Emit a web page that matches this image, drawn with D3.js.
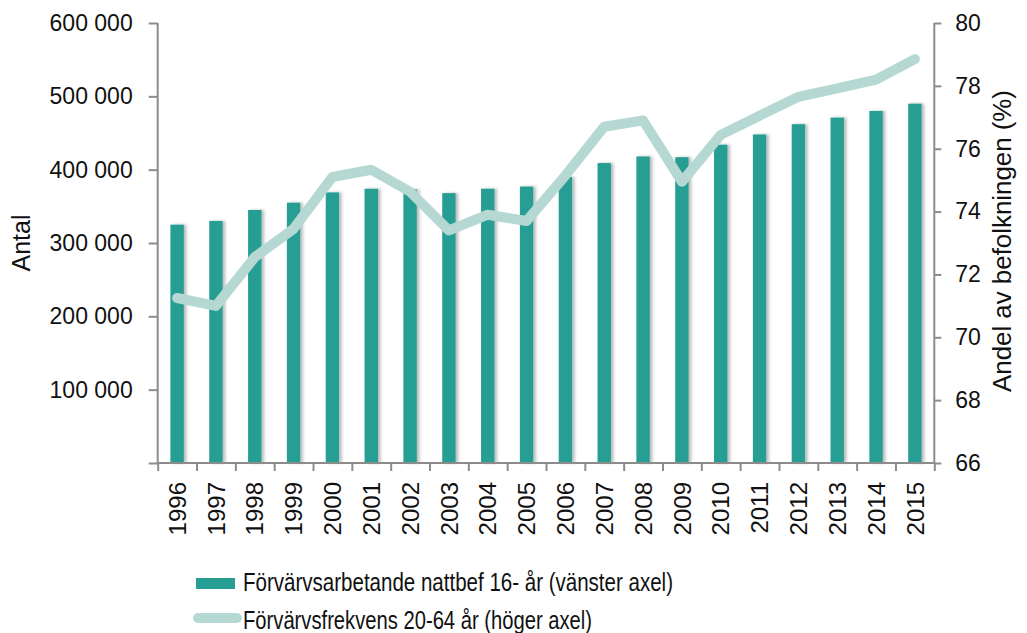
<!DOCTYPE html>
<html><head><meta charset="utf-8">
<script src="https://cdn.jsdelivr.net/npm/d3@7"></script>
<style>
html,body{margin:0;padding:0;background:#fff;}
svg{display:block;}
text{font-family:"Liberation Sans",Arial,sans-serif;fill:#111;}
</style></head>
<body>
<svg id="chart" width="1027" height="633"></svg>
<script>
const years = ["1996","1997","1998","1999","2000","2001","2002","2003","2004","2005","2006","2007","2008","2009","2010","2011","2012","2013","2014","2015"];
const employed = [325000,330000,345000,355000,369000,374000,373000,368000,374000,377000,390000,409000,418000,417000,434000,448000,462000,471000,480000,490000];
const rate = [71.25,71.0,72.55,73.45,75.1,75.33,74.63,73.4,73.9,73.7,75.15,76.7,76.9,74.95,76.44,77.05,77.65,77.92,78.2,78.85];
const leftTicks = [0,100000,200000,300000,400000,500000,600000];
const rightTicks = [66,68,70,72,74,76,78,80];
const legendLabels = ["Förvärvsarbetande nattbef 16- år (vänster axel)","Förvärvsfrekvens 20-64 år (höger axel)"];

const barColor = "#279e93", lineColor = "#b6d8d3", axisColor = "#8c8c8c";
const svg = d3.select("#chart");
const L = 157.7, R = 934.3, T = 23, B = 463;

const x = d3.scaleBand().domain(years).range([L, R]).paddingInner(0.655).paddingOuter(0.3275);
const yL = d3.scaleLinear().domain([0,600000]).range([B, T]);
const yR = d3.scaleLinear().domain([66,80]).range([B, T]);

const defs = svg.append("defs");
const f = defs.append("filter").attr("id","sh").attr("x","-50%").attr("y","-10%").attr("width","200%").attr("height","120%");
f.append("feDropShadow").attr("dx",2.5).attr("dy",0).attr("stdDeviation",1.5).attr("flood-color","#000").attr("flood-opacity",0.28);

const loc = d3.formatLocale({decimal:",", thousands:"\u00a0", grouping:[3], currency:["",""]});
const fmt = loc.format(",d");

// bars
svg.append("g").selectAll("rect").data(years).join("rect")
  .attr("x", d => x(d)).attr("width", x.bandwidth())
  .attr("y", (d,i) => yL(employed[i])).attr("height", (d,i) => B - yL(employed[i]))
  .attr("fill", barColor).attr("filter","url(#sh)");

// line
const line = d3.line().x((d,i) => x(years[i]) + x.bandwidth()/2).y(d => yR(d));
svg.append("path").datum(rate).attr("d", line).attr("fill","none")
  .attr("stroke", lineColor).attr("stroke-width", 10).attr("stroke-linecap","round").attr("stroke-linejoin","round");

// axes
const gL = svg.append("g").attr("transform",`translate(${L},0)`)
  .call(d3.axisLeft(yL).tickValues(leftTicks).tickFormat(d => d === 0 ? "" : fmt(d)).tickSize(9).tickPadding(16));
const gR = svg.append("g").attr("transform",`translate(${R},0)`)
  .call(d3.axisRight(yR).tickValues(rightTicks).tickSize(7).tickPadding(14));
const xb = d3.scaleLinear().domain([0,20]).range([L,R]);
const gX = svg.append("g").attr("transform",`translate(0,${B})`)
  .call(d3.axisBottom(xb).tickValues(d3.range(21)).tickFormat("").tickSize(8));
[gL,gR,gX].forEach(g => {
  g.select(".domain").attr("stroke", axisColor).attr("stroke-width",2);
  g.selectAll(".tick line").attr("stroke", axisColor).attr("stroke-width",2);
  g.selectAll("text").attr("font-size",23).attr("fill","#111").attr("font-family",'"Liberation Sans",Arial,sans-serif');
});
gL.select(".domain").attr("d", `M0,${B}V${T}`);
gR.select(".domain").attr("d", `M0,${B}V${T}`);
gX.select(".domain").attr("d", `M${L},0H${R}`);

// year labels
svg.append("g").selectAll("text").data(years).join("text")
  .attr("transform", d => `translate(${x(d)+x.bandwidth()/2},${B+19}) rotate(-90)`)
  .attr("text-anchor","end").attr("dy","0.36em").attr("font-size",24).text(d => d);

// axis titles
svg.append("text").attr("transform",`translate(${30},${243}) rotate(-90)`).attr("text-anchor","middle")
  .attr("font-size",25).text("Antal");
svg.append("text").attr("transform",`translate(${1011},${241}) rotate(-90)`).attr("text-anchor","middle")
  .attr("font-size",25).attr("textLength",302).attr("lengthAdjust","spacingAndGlyphs").text("Andel av befolkningen (%)");

// legend
const lg = svg.append("g");
lg.append("rect").attr("x",196).attr("y",578).attr("width",39).attr("height",11).attr("fill",barColor);
lg.append("text").attr("x",243).attr("y",591).attr("font-size",25)
  .attr("textLength",430).attr("lengthAdjust","spacingAndGlyphs").text(legendLabels[0]);
lg.append("line").attr("x1",198).attr("x2",237).attr("y1",618).attr("y2",618)
  .attr("stroke",lineColor).attr("stroke-width",10).attr("stroke-linecap","round");
lg.append("text").attr("x",243).attr("y",629).attr("font-size",25)
  .attr("textLength",349).attr("lengthAdjust","spacingAndGlyphs").text(legendLabels[1]);
</script>
</body></html>
